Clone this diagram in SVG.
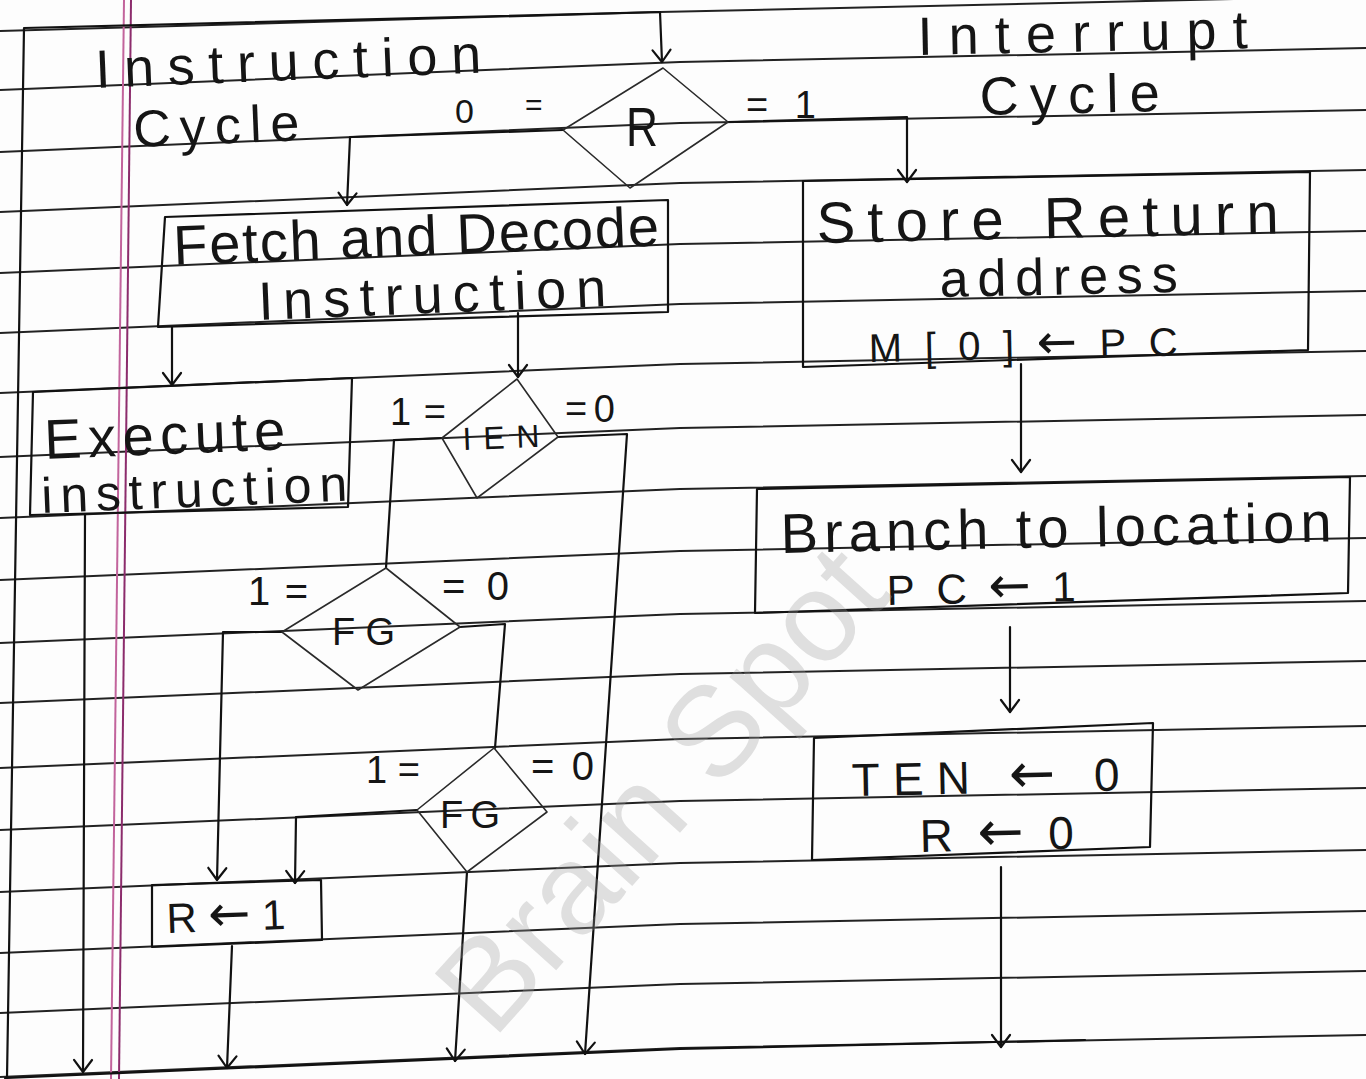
<svg xmlns="http://www.w3.org/2000/svg" width="1366" height="1079" viewBox="0 0 1366 1079">
<defs>
<style>
.rule{fill:none;stroke:#222;stroke-width:2}
.ink{fill:none;stroke:#111;stroke-width:2.2;stroke-linejoin:round;stroke-linecap:round}
.box{fill:none;stroke:#111;stroke-width:2.2;stroke-linejoin:round}
.dia{fill:none;stroke:#2a2a2a;stroke-width:1.6;stroke-linejoin:round}
.t{font-family:"Liberation Sans","DejaVu Sans",sans-serif;fill:#151515}
.ar{font-family:"DejaVu Sans",sans-serif;font-size:1.2em}
.wm{font-family:"Liberation Sans",Arial,sans-serif;font-size:128px;fill:#9a9a9a;fill-opacity:0.3}
</style>
<marker id="ah" viewBox="-14 -11 16 22" markerWidth="16" markerHeight="22" refX="0" refY="0" orient="auto" markerUnits="userSpaceOnUse">
<path d="M-12,-9 L0,0 L-12,9" fill="none" stroke="#111" stroke-width="2.2" stroke-linecap="round" stroke-linejoin="round"/>
</marker>
</defs>
<rect width="1366" height="1079" fill="#fdfdfd"/>
<g id="paper">
<path class="rule" d="M0,31 L660,12 L1366,-4"/>
<path class="rule" d="M0,90 L680,62 L1366,48"/>
<path class="rule" d="M0,152 L680,123 L1366,110"/>
<path class="rule" d="M0,212 L680,183 L1366,170"/>
<path class="rule" d="M0,273 L680,244 L1366,231"/>
<path class="rule" d="M0,333 L680,304 L1366,291"/>
<path class="rule" d="M0,393 L680,364 L1366,351"/>
<path class="rule" d="M0,457 L680,428 L1366,415"/>
<path class="rule" d="M0,518 L680,489 L1366,476"/>
<path class="rule" d="M0,580 L680,551 L1366,538"/>
<path class="rule" d="M0,643 L680,614 L1366,601"/>
<path class="rule" d="M0,703 L680,674 L1366,661"/>
<path class="rule" d="M0,768 L680,739 L1366,726"/>
<path class="rule" d="M0,830 L680,801 L1366,788"/>
<path class="rule" d="M0,892 L680,863 L1366,850"/>
<path class="rule" d="M0,953 L680,924 L1366,911"/>
<path class="rule" d="M0,1013 L680,984 L1366,971"/>
<path class="rule" d="M0,1077 L680,1048 L1366,1035"/>
<line x1="124" y1="0" x2="111" y2="1079" stroke="#c2649c" stroke-width="2"/>
<line x1="131" y1="0" x2="119" y2="1079" stroke="#8c2c6c" stroke-width="2"/>
</g>

<g id="connectors">
<path class="ink" d="M7,1078 L24,28 L660,12 L662,62" marker-end="url(#ah)"/>
<path class="ink" d="M563,130 L350,137 L347,205" marker-end="url(#ah)"/>
<path class="ink" d="M728,122 L907,117 L907,182" marker-end="url(#ah)"/>
<path class="ink" d="M172,327 L172,385" marker-end="url(#ah)"/>
<path class="ink" d="M518,313 L518,377" marker-end="url(#ah)"/>
<path class="ink" d="M1021,364 L1021,472" marker-end="url(#ah)"/>
<path class="ink" d="M1010,627 L1010,712" marker-end="url(#ah)"/>
<path class="ink" d="M1001,867 L1001,1047" marker-end="url(#ah)"/>
<path class="ink" d="M442,438 L394,440 L386,568"/>
<path class="ink" d="M558,437 L627,434 L585,1054" marker-end="url(#ah)"/>
<path class="ink" d="M85,515 L83,1072" marker-end="url(#ah)"/>
<path class="ink" d="M282,632 L223,632 L217,880" marker-end="url(#ah)"/>
<path class="ink" d="M460,627 L505,624 L495,748"/>
<path class="ink" d="M417,810 L296,817 L295,883" marker-end="url(#ah)"/>
<path class="ink" d="M467,872 L455,1061" marker-end="url(#ah)"/>
<path class="ink" d="M232,946 L227,1068" marker-end="url(#ah)"/>
<path class="ink" d="M5,1078 L680,1049 L1085,1040" stroke-width="3"/>
</g>

<g id="labels">
<text class="t" x="96" y="88" font-size="54" textLength="386" transform="rotate(-2.3 96 88)">Instruction</text>
<text class="t" x="134" y="147" font-size="52" textLength="166" transform="rotate(-2.3 134 147)">Cycle</text>
<text class="t" x="455" y="123" font-size="34">0</text>
<text class="t" x="525" y="115" font-size="30">=</text>
<text class="t" x="746" y="118" font-size="38" textLength="70">=1</text>
<text class="t" x="918" y="55" font-size="54" textLength="330" transform="rotate(-1.2 918 55)">Interrupt</text>
<text class="t" x="980" y="115" font-size="54" textLength="180" transform="rotate(-1.2 980 115)">Cycle</text>
</g>

<g id="node-r">
<polygon class="dia" points="663,68 728,122 630,188 563,130"/>
<text class="t" x="626" y="146" font-size="56" textLength="32" lengthAdjust="spacingAndGlyphs">R</text>
</g>

<g id="node-fetch">
<polygon class="box" points="165,217 668,200 668,312 158,327"/>
<text class="t" x="174" y="265" font-size="56" textLength="486" transform="rotate(-2.3 174 265)">Fetch and Decode</text>
<text class="t" x="259" y="320" font-size="54" textLength="348" transform="rotate(-2.3 259 320)">Instruction</text>
</g>

<g id="node-store">
<polygon class="box" points="803,181 1310,172 1308,350 803,367"/>
<text class="t" x="817" y="243" font-size="58" textLength="462" transform="rotate(-1.2 817 243)">Store Return</text>
<text class="t" x="940" y="297" font-size="52" textLength="238" transform="rotate(-1.2 940 297)">address</text>
<text class="t" x="869" y="362" font-size="40" textLength="309" transform="rotate(-1.2 869 362)">M[0]<tspan class="ar">←</tspan>PC</text>
</g>

<g id="node-execute">
<polygon class="box" points="33,392 352,378 348,507 30,515"/>
<text class="t" x="45" y="459" font-size="56" textLength="241" transform="rotate(-2.3 45 459)">Execute</text>
<text class="t" x="42" y="513" font-size="50" textLength="306" transform="rotate(-2.3 42 513)">instruction</text>
</g>

<g id="node-ien">
<polygon class="dia" points="517,379 558,437 477,498 442,438"/>
<text class="t" x="463" y="450" font-size="32" textLength="77" transform="rotate(-2.3 463 450)">IEN</text>
<text class="t" x="390" y="425" font-size="38" textLength="56">1 =</text>
<text class="t" x="565" y="422" font-size="38" textLength="50">=0</text>
</g>

<g id="node-branch">
<polygon class="box" points="757,489 1350,477 1348,593 755,613"/>
<text class="t" x="781" y="553" font-size="56" textLength="551" transform="rotate(-1.2 781 553)">Branch to location</text>
<text class="t" x="887" y="605" font-size="42" textLength="189" transform="rotate(-1.2 887 605)">PC<tspan class="ar">←</tspan>1</text>
</g>

<g id="node-fg1">
<polygon class="dia" points="386,568 460,627 358,690 282,632"/>
<text class="t" x="332" y="645" font-size="38" textLength="63">FG</text>
<text class="t" x="248" y="605" font-size="40" textLength="60">1 =</text>
<text class="t" x="442" y="600" font-size="40" textLength="67">= 0</text>
</g>

<g id="node-fg2">
<polygon class="dia" points="494,748 547,812 467,872 417,810"/>
<text class="t" x="440" y="828" font-size="38" textLength="60">FG</text>
<text class="t" x="366" y="783" font-size="38" textLength="54">1=</text>
<text class="t" x="531" y="780" font-size="40" textLength="63">= 0</text>
</g>

<g id="node-clear">
<polygon class="box" points="814,738 1153,723 1150,847 812,860"/>
<text class="t" x="852" y="796" font-size="46" textLength="268" transform="rotate(-1.2 852 796)">TEN <tspan class="ar">←</tspan> 0</text>
<text class="t" x="920" y="852" font-size="46" textLength="154" transform="rotate(-1.2 920 852)">R<tspan class="ar">←</tspan>0</text>
</g>

<g id="node-set-r">
<polygon class="box" points="152,885 321,880 322,940 152,947"/>
<text class="t" x="167" y="933" font-size="42" textLength="119" transform="rotate(-2 167 933)">R<tspan class="ar">←</tspan>1</text>
</g>

<text class="wm" x="0" y="42" text-anchor="middle" transform="translate(662,790) rotate(-48)">Brain Spot</text>
</svg>
